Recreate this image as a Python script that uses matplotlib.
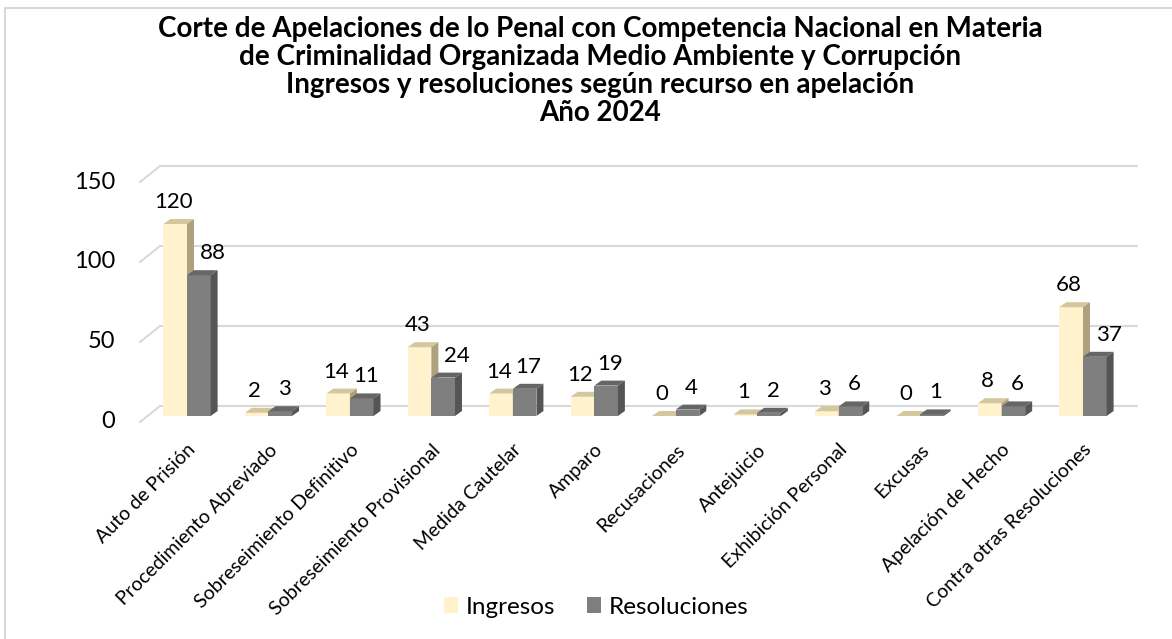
import matplotlib.pyplot as plt
from matplotlib.patches import Polygon, Patch
from matplotlib.lines import Line2D
import numpy as np

plt.rcParams['font.family'] = ['Lato', 'DejaVu Sans']

categories = ["Auto de Prisión", "Procedimiento Abreviado", "Sobreseimiento Definitivo",
              "Sobreseimiento Provisional", "Medida Cautelar", "Amparo", "Recusaciones",
              "Antejuicio", "Exhibición Personal", "Excusas", "Apelación de Hecho",
              "Contra otras Resoluciones"]
ingresos = [120, 2, 14, 43, 14, 12, 0, 1, 3, 0, 8, 68]
resoluciones = [88, 3, 11, 24, 17, 19, 4, 2, 6, 1, 6, 37]
yticks = [0, 50, 100, 150]

title = ("Corte de Apelaciones de lo Penal con Competencia Nacional en Materia\n"
         "de Criminalidad Organizada Medio Ambiente y Corrupción\n"
         "Ingresos y resoluciones según recurso en apelación\n"
         "Año 2024")

W, H = 1172, 639
fig = plt.figure(figsize=(W / 100, H / 100), dpi=100)
ax = fig.add_axes([140 / W, 1 - 430 / H, 1000 / W, 270 / H])
xmin, xmax = -0.577, 11.70
ymin, ymax = -8.75, 160
ax.set_xlim(xmin, xmax)
ax.set_ylim(ymin, ymax)
ux = (xmax - xmin) / 1000   # data units per pixel
uy = (ymax - ymin) / 270

# 3d look
ddx, ddy = 7 * ux, 5 * uy
bw = 0.29
col_ing = ('#FFF2CC', '#D4C79E', '#ADA17F')
col_res = ('#7F7F7F', '#666666', '#555555')

# back wall gridlines
for v in yticks:
    xs = [xmin, xmin + 20 * ux, 11.66]
    ys = [v - 6 * uy, v + 10 * uy, v + 10 * uy]
    ax.plot(xs, ys, color='#D9D9D9', lw=1.5, zorder=1, clip_on=False)
    ax.text(xmin - 25 * ux, v - 6 * uy, str(v), ha='right', va='center',
            fontsize=17, color='black')

x = np.arange(len(categories))


def faces(x0, vals, cols):
    ax.bar(x0, vals, width=bw, align='edge', color=cols[0], zorder=3)
    for xi, h in zip(x0, vals):
        ax.add_patch(Polygon([(xi, h), (xi + bw, h), (xi + bw + ddx, h + ddy), (xi + ddx, h + ddy)],
                             closed=True, facecolor=cols[1], edgecolor='none', zorder=3))
        ax.add_patch(Polygon([(xi + bw, 0), (xi + bw + ddx, ddy), (xi + bw + ddx, h + ddy), (xi + bw, h)],
                             closed=True, facecolor=cols[2], edgecolor='none', zorder=3))


faces(x - bw, ingresos, col_ing)
faces(x, resoluciones, col_res)

for i in range(len(categories)):
    a, b = ingresos[i], resoluciones[i]
    ax.text(x[i] - bw / 2 - 2 * ux, a + 12 * uy, str(a), ha='center', va='bottom',
            fontsize=16, zorder=4)
    shift = 14 * ux if a > b + 10 else 4 * ux
    ax.text(x[i] + bw / 2 + shift, b + 12 * uy, str(b), ha='center', va='bottom',
            fontsize=16, zorder=4)

ax.set_xticks(x)
ax.set_xticklabels(categories, fontsize=14)
plt.setp(ax.get_xticklabels(), rotation=45, ha='right', rotation_mode='anchor')
ax.tick_params(axis='x', length=0, pad=8)
ax.set_yticks([])
for s in ax.spines.values():
    s.set_visible(False)
ax.patch.set_alpha(0)

fig.text(600 / W, 1 - 71 / H, title, ha='center', va='center', fontsize=20,
         fontweight='bold', linespacing=1.1)

handles = [Patch(facecolor=col_ing[0], label='Ingresos'),
           Patch(facecolor=col_res[0], label='Resoluciones')]
fig.legend(handles=handles, loc='center', bbox_to_anchor=(596 / W, 1 - 607 / H), ncol=2,
           frameon=False, fontsize=17.5, handlelength=0.6, handleheight=0.6,
           handletextpad=0.3, columnspacing=1.3)

# chart border (top and left edges visible)
fig.add_artist(Line2D([5 / W, 5 / W], [0, 1 - 8 / H], color='#D9D9D9', lw=1.5))
fig.add_artist(Line2D([5 / W, 1], [1 - 8 / H, 1 - 8 / H], color='#D9D9D9', lw=1.5))

fig.savefig('out.png', dpi=100)
